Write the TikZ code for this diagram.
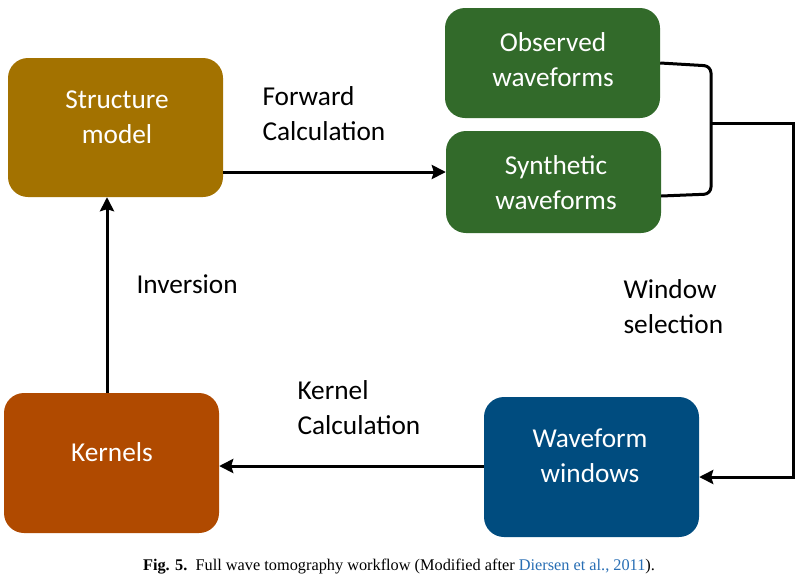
\documentclass[tikz,border=0pt]{standalone}
\usepackage{fontspec}
\setmainfont{Carlito}
\newfontfamily\capfont{Liberation Serif}
\usetikzlibrary{arrows.meta,calc}
\definecolor{cgold}{RGB}{163,114,0}
\definecolor{cgreen}{RGB}{50,106,42}
\definecolor{cblue}{RGB}{0,76,127}
\definecolor{corange}{RGB}{176,74,0}
\definecolor{clink}{RGB}{40,110,180}
\tikzset{
  box/.style={draw=none,rounded corners=20pt,minimum width=215pt,inner sep=0pt},
  boxtext/.style={text=white,align=center,font=\fontsize{27.3}{35}\selectfont},
  lbl/.style={text=black,align=left,font=\fontsize{27.3}{35}\selectfont,anchor=west},
  conn/.style={line width=3pt,-{Stealth[length=14pt,width=14pt,inset=2pt]}},
  plain/.style={line width=3pt,line join=round}
}
\begin{document}
\begin{tikzpicture}[x=1pt,y=-1pt]
\useasboundingbox (0,0) rectangle (806,584);
% boxes
\node[box,fill=cgold,minimum height=139pt] (sm) at (115.5,127.5) {};
\node[box,fill=cgreen,minimum height=110pt] (ow) at (552.5,63) {};
\node[box,fill=cgreen,minimum height=102pt] (sw) at (553.5,182) {};
\node[box,fill=cblue,minimum height=140pt] (ww) at (591.5,467) {};
\node[box,fill=corange,minimum height=140pt] (kn) at (111.5,463) {};
% box texts
\node[boxtext] (smt) at (117,117) {Structure\\model};
\node[boxtext] (owt) at (553,59.5) {Observed\\waveforms};
\node[boxtext] (swt) at (556,182.5) {Synthetic\\waveforms};
\node[boxtext] (wwt) at (590,455.5) {Waveform\\windows};
\node[boxtext] (knt) at (112,452) {Kernels};
% labels
\node[lbl] (fc) at (259,114) {Forward\\Calculation};
\node[lbl] (inv) at (133,284) {Inversion};
\node[lbl] (wsel) at (620,306.5) {Window\\selection};
\node[lbl] (kc) at (294,408) {Kernel\\Calculation};
% connectors
\coordinate (br) at (711,123);
\coordinate (rc) at (793,123);
\draw[conn] (sm.east |- 0,172) -- (sw.west |- 0,172);
\draw[plain,rounded corners=7pt] (ow.east |- 0,63) -- (711,66) -- (711,194) -- (sw.east |- 0,196);
\draw[conn] (br) -- (rc) -- (rc |- 0,477) -- (ww.east |- 0,477);
\draw[conn] (ww.west |- 0,466) -- (kn.east |- 0,466);
\draw[conn] (kn.north -| 107,0) -- (sm.south -| 107,0);
% caption
\node[font=\capfont\fontsize{16.3}{19}\selectfont,anchor=center] (cap) at (399,567)
  {\textbf{Fig. 5.}\enspace Full wave tomography workflow (Modified after \textcolor{clink}{Diersen et al., 2011}).};
\end{tikzpicture}
\end{document}
